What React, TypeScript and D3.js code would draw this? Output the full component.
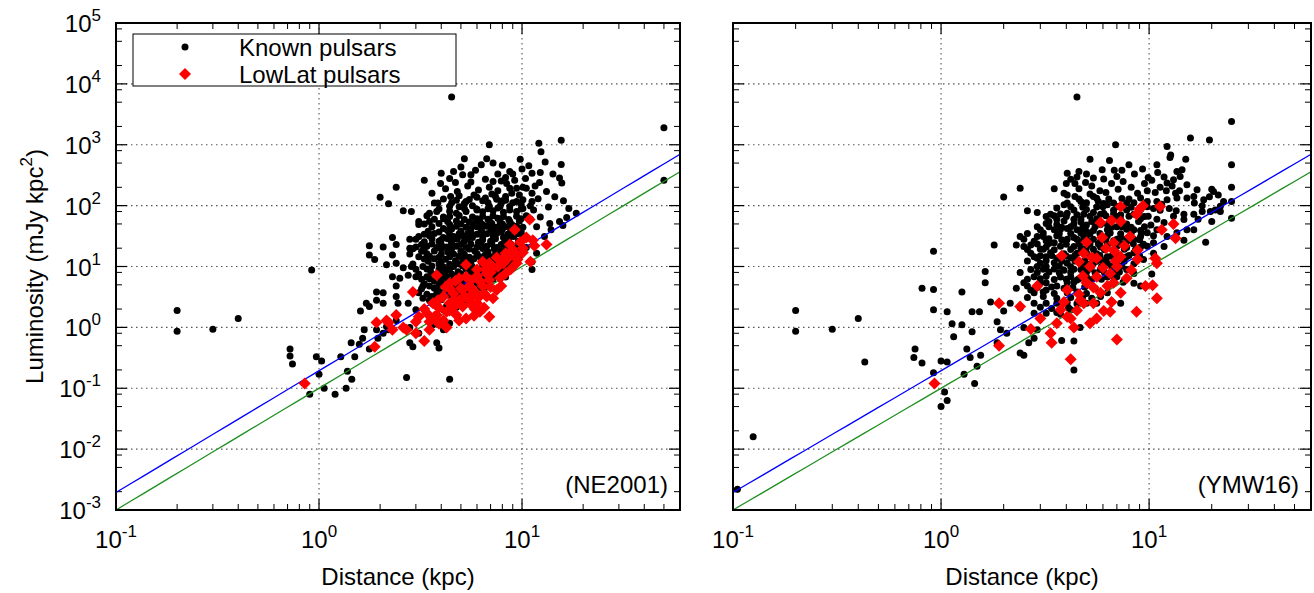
import React from "react";
import * as d3 from "d3";

// ---------------- DATA ----------------
// Known pulsars, NE2001 distances: [distance kpc, luminosity mJy kpc^2]
const knownNE: [number, number][] = [
  [0.2,1.9],[0.2,0.86],[0.3,0.93],[0.4,1.4],[0.72,0.44],[0.72,0.34],[0.74,0.25],[0.92,8.8],[0.97,0.33],[1.0,0.17],[1.03,0.28],[0.9,0.08],[1.06,0.1],[1.2,0.08],[1.28,0.33],[1.38,0.19],[1.36,0.1],[1.45,0.14],[4.4,0.14],[2.7,0.15],[4.5,6100],[50,1900],[50,260],
  [6.9,1000],[12.1,1060],[15.6,1180],[12.4,770],[5.2,590],[6.7,590],[7.2,500],[8.0,460],[9.8,580],[8.7,365],[10.0,400],[11.2,340],[12.3,350],[12.2,240],[15.6,475],[15.3,285],[15.7,235],[4.0,340],[4.6,365],[4.4,280],[5.1,320],[5.6,320],[4.7,240],[5.6,245],[6.6,270],[7.2,250],[7.9,255],[8.7,193],[9.4,193],[10.1,200],[10.5,193],[8.9,160],[3.97,230],[2.4,200],[2.0,137],[2.2,107],[2.6,82],[2.85,80],[3.5,55],[3.1,49],[4.45,141],[4.9,145],[5.3,117],[6.0,137],[6.6,133],[7.4,141],[8.3,141],[9.7,150],[11.2,160],[9.4,117],[11.2,117],[3.85,110],[4.4,98],[3.5,75],[3.8,80],[3.1,55],[4.1,65],[4.75,75],[4.3,55],[5.3,80],[6.0,85],[6.9,98],[7.8,98],[8.7,85],[10.1,90],[11.4,85],[12.3,65],[11.0,60],[13.7,51],[15.3,55],[16.6,64],[15.9,47],[13.9,40],[11.8,45],[12.9,31],[11.2,12],[11.8,16.5],[11.2,8.9],
  [2.3,30],[2.4,23],[2.07,21],[2.8,28],[2.8,20],[1.77,22],[1.77,15.5],[1.88,13],[2.3,15.5],[2.4,11.3],[2.15,10.7],[2.6,9.5],[2.85,10],[2.3,6.8],[2.5,6.4],[2.4,4.8],[2.75,7.2],[3.0,6.8],[3.25,4.8],[3.1,3.7],[1.92,3.8],[2.07,3.7],[1.77,2.2],[1.71,2.5],[1.6,1.85],[1.92,2.8],[2.4,3.2],[2.45,2.5],[2.07,2.5],[2.75,2.5],[3.25,3.0],[3.6,2.5],[3.0,1.95],[3.4,1.7],[3.64,1.3],[2.8,1.0],[1.92,0.91],[2.07,0.8],[2.2,0.91],[1.67,0.91],[1.64,0.66],[1.58,0.53],[1.77,0.44],[1.95,0.66],[2.15,1.03],[2.4,1.3],[2.8,0.56],[2.9,0.48],[3.1,0.8],[3.8,0.56],[3.9,0.46],[3.64,1.1],[4.1,0.91],[4.4,1.17],[4.1,1.95],[1.5,0.33],[1.44,0.56],
  [4.2,190],[4.8,170],[5.4,210],[6.1,180],[6.9,200],[7.6,175],[8.4,230],[9.2,260],[10.4,280],[11.6,210],[13.2,170],[5.0,430],[5.9,380],[6.3,470],[7.6,330],[8.3,290],[9.0,330],[10.8,450],[13.0,520],[14.2,330],[3.6,160],[3.3,260],[5.8,150],[7.1,155],[8.0,120],[9.9,105],[12.0,130],[13.5,95],[14.5,140],[17,90],[18.5,75],[16,120],
  [4.1,128],[4.75,122],[5.5,126],[6.4,120],[7.5,127],[8.3,123],[10.1,125],
  [3.7,110],[4.5,112],[5.2,108],[6.8,111],[7.9,109],[9.0,112],
  [4.9,96],[5.7,100],[8.7,97],[11.0,99],
  [3.9,88],[5.2,90],[6.0,87],[6.8,89],[7.6,91],[9.9,88],
  [4.4,81],[6.4,79],[7.2,82],[8.1,78],[9.4,80],
  [3.4,68],[4.4,66],[4.9,69],[5.7,65],[6.4,67],[7.2,68],[8.1,66],[9.4,67],[10.5,68],
  [3.7,60],[4.1,61],[5.2,59],[6.0,61],[6.8,60],[7.6,62],[8.6,59],[9.9,61],
  [4.75,56],[5.5,54],[6.2,55],[6.9,57],[7.8,54],[8.7,55],[9.7,56],
  [3.3,50],[3.9,51],[4.4,49],[5.0,50],[5.8,51],[6.4,49],[7.1,51],[8.0,50],[8.9,49],
  [3.6,45],[4.75,46],[5.3,44],[6.0,45],[6.7,46],[7.5,44],[8.3,45],[9.4,46],[10.1,44],
  [4.1,42],[4.5,41.5],[5.6,42],[6.3,41.5],[7.2,42.5],[8.0,41.5],[9.0,42],
  [3.45,38],[3.9,37],[4.3,39],[5.0,38],[5.6,37],[6.3,39],[7.0,38],[7.9,37],[8.8,39],[9.9,38],
  [3.3,34],[3.7,35],[4.4,34],[4.9,34.5],[5.4,35],[6.0,34],[6.7,34.5],[7.5,35],[8.5,34],[9.5,34.5],
  [3.1,31],[3.5,32],[4.1,30],[4.6,31],[5.1,32],[5.7,30],[6.4,31],[7.2,32],[8.1,30],[9.1,31],[10.1,32],
  [3.0,28],[3.6,28.5],[4.0,27.5],[4.3,28.5],[4.8,28],[5.4,28.5],[6.4,27.5],[7.4,28.5],[8.6,28],
  [3.3,25.6],[3.9,26],[4.5,25],[5.2,26],[6.1,25],[7.0,26],[8.2,25],[9.6,26],
  [3.2,23],[3.6,23.5],[4.0,23],[4.5,23.5],[5.0,23],[5.6,23.5],[6.3,23],[7.1,23.5],[7.9,23],[8.8,23.5],
  [3.0,21],[3.4,21.5],[3.8,20.5],[4.25,21],[4.75,21.5],[5.3,20.5],[6.0,21],[6.7,21.5],[7.5,20.5],[8.3,21],[9.4,21.5],[10.5,20.5],
  [2.9,19.5],[3.3,19.7],[4.0,19.3],[4.5,19.6],[5.5,19.4],[6.4,19.7],[7.3,19.5],[8.6,19.3],[9.8,19.5],
  [3.2,17.8],[3.7,18],[4.3,17.5],[5.0,17.8],[5.85,18],[6.8,17.5],[7.9,17.8],[9.2,18],
  [2.8,16],[3.4,16.2],[4.0,15.8],[4.6,16.1],[5.2,15.9],[6.0,16.2],[6.6,15.8],[7.4,16],[8.3,16.2],[9.2,15.8],
  [3.1,14.5],[3.5,14.8],[3.9,14.2],[4.4,14.5],[4.9,14.8],[5.5,14.2],[6.2,14.5],[6.9,14.8],[7.8,14.2],[8.7,14.5],[9.7,14.8],
  [3.3,13.3],[3.7,13.4],[4.2,13.2],[5.1,13.3],[5.8,13.4],[6.5,13.2],[7.4,13.3],[8.2,13.4],[9.1,13.3],
  [3.45,12.2],[4.0,12],[4.7,12.4],[5.4,12.2],[6.3,12],[7.3,12.4],[8.55,12.2],
  [2.9,11],[3.9,11.1],[4.4,10.9],[4.9,11],[5.6,11.1],[6.6,10.9],[7.6,11],[8.6,11.1],
  [3.25,10],[3.6,10.2],[4.1,9.8],[4.6,10],[5.1,10.2],[5.7,9.8],[6.4,10],[7.2,10.2],[8.1,9.8],[9.1,10],
  [3.0,9],[3.4,9.1],[3.9,8.9],[4.4,9],[5.3,9.1],[6.1,8.9],[7.0,9],[8.0,9.1],
  [3.55,8.3],[4.2,8.4],[4.84,8.2],[5.6,8.3],[6.6,8.4],[7.6,8.2],
  [3.1,7.5],[3.6,7.6],[4.0,7.4],[4.5,7.5],[5.0,7.6],[5.8,7.4],[6.3,7.5],[7.2,7.6],
  [3.4,6.8],[3.8,6.9],[4.25,6.7],[4.75,6.8],[5.3,6.9],[6.0,6.7],[6.7,6.8],[7.5,6.9],[8.3,6.7],
  [3.2,6.2],[3.5,6.3],[4.0,6.1],[4.6,6.2],[5.5,6.3],[6.4,6.1],[7.2,6.2],
  [3.7,5.7],[4.3,5.6],[5.0,5.8],[5.85,5.7],[6.8,5.6],
  [3.3,5.2],[4.0,5.3],[4.7,5.1],[5.3,5.2],[6.0,5.3],
  [3.5,4.8],[3.9,4.9],[4.4,4.7],[4.9,4.8],[5.5,4.9],[6.2,4.7],[6.9,4.8],
  [3.2,4.3],[3.7,4.4],[4.2,4.2],[4.7,4.3],[5.5,4.4],[6.5,4.2],
  [3.9,3.9],[4.5,4.0],[5.2,3.8],[6.1,3.9],
  [3.4,3.5],[3.8,3.6],[4.3,3.4],[4.9,3.5],[5.4,3.6],
  [3.6,3.2],[4.1,3.3],[4.6,3.1],[5.1,3.2],[5.7,3.3],
  [3.5,2.8],[4.0,2.85],[4.5,2.75],[5.2,2.8],
  [3.8,2.2],[4.25,2.25],[4.75,2.15],
];

// LowLat pulsars, NE2001 distances
const lowlatNE: [number, number][] = [
  [0.85,0.12],
  [10.9,59],[9.2,40],[8.7,23],[10.1,20],[11.3,27],[13.2,23],[11.0,12],[10.1,17],[9.4,15.5],[8.3,16.5],[7.5,14],[6.9,11.3],[6.4,12],[5.3,10.7],[6.0,8.9],[6.7,7.7],[7.2,9.5],[8.1,11.3],[3.8,7.2],[2.9,3.8],[4.4,5.3],[4.9,6.4],[5.3,6.8],[5.5,4.8],[6.2,5.7],[6.9,6.0],[6.4,4.8],[5.7,3.6],[5.1,4.1],[4.6,3.6],[4.1,3.2],[4.4,2.5],[4.9,2.8],[5.5,2.8],[6.0,2.5],[7.2,3.0],[6.2,1.8],[6.9,1.5],[5.3,1.4],[4.75,1.6],[4.25,1.8],[3.8,1.6],[3.5,1.24],[3.4,1.7],[4.1,1.3],[4.25,1.0],[3.5,0.91],[3.0,1.24],[3.0,0.8],[2.7,0.91],[2.4,1.6],[2.2,1.2],[2.3,0.91],[1.92,1.2],[1.88,0.48],[3.3,0.6],[3.9,1.15],[4.7,2.3],[5.1,2.2],[5.85,2.0],[6.7,3.2],[7.5,4.1],[7.9,4.8],[8.3,7.7],[9.4,11.3],[4.4,4.4],[3.64,2.5],[3.85,2.8],[3.1,1.5],[2.6,1.0],[2.15,1.3],
  [4.2,4.6],[4.7,5.8],[5.0,4.4],[5.6,5.9],[6.0,7.0],[6.6,9.0],[7.0,8.0],[7.6,9.9],[8.0,13],[8.6,14],[9.0,19],[9.8,25],[10.5,30],[11.5,22],[5.8,4.0],[6.5,3.6],[7.0,4.6],[5.2,3.2],[4.6,2.8],[3.9,2.1],[4.4,1.9],[5.6,2.4],[6.1,3.1],[3.3,2.0],[3.7,1.5],[8.8,9],[9.5,13],[7.8,6.5],[4.0,1.2],[4.9,1.3],[5.8,1.55],[6.5,2.1],
];

// Known pulsars, YMW16 distances
const knownYMW: [number, number][] = [
  [0.105,0.0022],[0.125,0.016],[0.2,1.9],[0.2,0.86],[0.3,0.93],[0.4,1.4],[0.43,0.27],[1.04,0.087],[1.07,0.063],[1.0,0.05],[1.29,0.17],[1.45,0.12],[1.0,0.28],[4.5,6100],[24.9,2400],
  [15.8,1285],[19.5,1200],[6.9,1000],[12.2,935],[12.7,680],[12.6,620],[15.0,580],[5.2,580],[6.45,550],[8.0,470],[7.4,380],[6.8,380],[10.9,470],[24.9,470],[4.04,340],[4.6,365],[4.5,295],[5.0,330],[5.4,285],[5.95,390],[9.9,290],[11.8,295],[12.2,235],[13.1,265],[13.6,365],[14.4,390],[14.1,300],[15.2,220],[4.0,230],[4.4,230],[4.95,240],[6.05,275],[6.2,165],[7.1,185],[9.8,175],[10.7,165],[12.1,175],[13.4,160],[17.0,182],[20.0,185],[20.4,170],[24.9,200],[2.4,193],[2.0,138],[3.9,160],[4.04,150],[4.4,141],[4.7,117],[5.2,155],[5.4,141],[5.7,117],[6.3,103],[7.0,97],[7.8,110],[9.1,133],[9.8,117],[10.9,117],[12.2,125],[13.6,133],[15.2,133],[16.4,141],[18.3,125],[22.0,98],[22.8,117],[24.9,117],[24.9,62],
  [2.6,82],[2.9,77],[3.2,66],[3.6,60],[3.9,103],[3.6,91],[4.04,75],[4.35,60],[4.85,72],[5.4,77],[6.05,75],[8.45,72],[9.9,67],[10.9,60],[11.8,53],[13.1,67],[14.7,72],[16.4,72],[16.4,40],[18.0,80],[19.7,80],[20.8,85],[22.0,80],[15.2,40],[13.6,36],[18.7,25],[2.9,45],[3.2,51],[2.9,31],[3.5,40],[4.04,42],[4.5,40],[5.0,38],[5.84,49],[7.0,45],[8.45,40],[9.8,36],[10.9,40],[12.2,31],[14.7,27],[2.4,31],[2.3,22.5],[2.5,21.3],[2.7,22.5],[1.8,22.5],[0.92,17.8],[3.0,19.3],[3.5,24.5],[4.04,28],[4.35,21.3],[4.7,20],[5.4,28],[6.3,22.5],[8.45,28],[10.5,24.5],[11.8,21.3],
  [2.8,14.5],[2.9,10],[3.1,9],[3.2,14.5],[3.6,13.7],[4.04,11.3],[4.35,9],[4.7,11.3],[5.4,11.3],[6.3,14.5],[7.8,14.5],[9.4,13],[10.5,16.5],[2.4,8.0],[2.5,5.4],[2.6,4.8],[2.3,4.4],[2.7,4.1],[3.0,5.4],[3.2,4.1],[3.6,4.8],[4.04,5.4],[4.5,6.0],[5.0,6.8],[5.84,8.9],[7.0,6.8],[8.45,7.7],[10.3,7.5],[1.63,8.3],[1.63,5.4],[0.81,4.4],[0.92,4.2],[1.26,3.8],[1.73,2.6],[2.15,2.5],[2.0,1.85],[1.07,1.8],[1.41,1.8],[1.53,1.8],[1.13,1.15],[1.26,1.1],[1.41,0.85],[1.15,0.7],[1.86,1.24],[1.93,0.91],[2.07,0.8],[2.5,1.0],[2.8,1.7],[3.2,2.5],[3.6,2.5],[4.2,1.95],[5.0,2.5],[5.84,3.2],[7.3,2.5],[8.45,5.3],[9.1,4.8],
  [0.75,0.44],[0.74,0.32],[0.81,0.26],[1.07,0.27],[1.33,0.44],[1.38,0.32],[1.55,0.35],[1.86,0.56],[2.8,0.66],[2.64,0.56],[2.9,0.91],[2.4,0.38],[2.5,0.35],[3.8,0.61],[4.35,0.6],[4.35,0.2],[4.66,1.0],[1.49,0.23],[0.92,0.18],[0.92,1.95],
  [4.6,190],[5.3,210],[5.8,175],[6.6,230],[7.5,250],[8.2,200],[8.8,160],[9.5,230],[10.3,260],[11.3,200],[12.9,210],[14.0,175],[7.0,300],[8.5,330],[9.3,400],[11.0,350],[4.2,270],[3.5,190],[16.5,110],[18.0,100],[19.5,140],[21.5,150],[17.2,60],[20.0,55],[12.5,90],[11.5,105],[13.5,82],[10.5,90],
  [4.6,128],[5.6,132],[6.4,128],[7.4,131],[8.0,128],
  [4.04,110],[5.0,112],[6.05,108],[6.75,110],[8.45,112],
  [4.2,96],[4.8,94],[5.6,95],[6.0,96],[7.5,95],[8.2,94],[9.8,96],
  [4.35,85],[5.0,86],[6.75,84],[7.8,85],[9.1,86],[11.3,84],
  [3.36,72],[3.75,73],[4.5,71],[5.84,72],[6.75,73],[7.3,71],
  [3.5,68],[4.0,66],[5.2,67],[6.2,68],[7.0,66],[8.0,67],[9.0,68],[9.5,66],
  [4.7,60],[5.6,61],[6.5,59],[7.3,60],[9.1,61],[14.7,59],
  [3.3,55],[3.9,56],[4.7,54],[5.3,55],[6.6,56],[7.4,54],[8.9,55],
  [3.6,49],[4.35,50],[5.0,48],[6.3,49],[7.8,50],[10.2,48],
  [3.3,45],[3.8,44],[4.2,45],[4.8,44],[5.5,45],[6.6,44],[7.4,45],[8.2,44],[9.5,45],
  [3.0,40],[3.75,41],[5.4,39],[6.3,40],[7.8,41],[9.1,39],
  [2.6,35],[3.1,35.5],[3.7,34.5],[4.2,35],[4.7,35.5],[5.2,34.5],[5.8,35],[6.5,35.5],[7.3,34.5],[8.2,35],[9.2,35.5],
  [3.1,31],[3.6,32],[4.35,30],[4.85,31],[6.3,32],[7.3,30],[9.1,31],[10.5,32],
  [2.5,28],[3.3,28.5],[3.8,27.5],[4.5,28],[5.0,28.5],[6.2,27.5],[7.0,28],[7.8,28.5],[9.0,27.5],
  [2.8,26],[3.2,26.5],[4.7,25.5],[5.84,26],[6.75,26.5],[7.8,25.5],
  [2.9,23.5],[3.3,23.8],[4.0,23.3],[4.6,23.6],[5.2,23.4],[5.7,23.7],[6.3,23.3],[7.4,23.5],[8.4,23.7],[9.4,23.3],
  [3.2,21],[3.75,21.5],[5.0,20.5],[5.84,21],[7.0,21.5],[7.8,20.5],[9.1,21],[9.8,21.5],
  [2.6,19],[3.1,19.2],[3.5,18.8],[4.2,19.1],[4.9,18.9],[5.4,19.2],[6.1,18.8],[6.8,19],[7.6,19.2],[8.6,18.8],
  [2.7,16.5],[3.36,16.8],[3.9,16.2],[4.5,16.5],[5.0,16.8],[5.6,16.2],[6.75,16.5],[8.45,16.8],
  [3.0,15],[3.4,15.2],[4.0,14.8],[4.4,15.1],[5.2,14.9],[5.8,15.2],[6.6,14.8],[7.1,15],[8.0,15.1],[9.0,15],
  [2.9,13.7],[4.2,13.9],[5.84,13.5],[7.3,13.7],
  [2.6,12.3],[3.2,12.4],[3.8,12.2],[4.4,12.3],[4.9,12.4],[5.6,12.2],[6.0,12.3],[6.9,12.4],[7.6,12.2],
  [3.0,11.3],[3.5,11.5],[5.0,11.1],[6.3,11.3],[7.0,11.5],[8.45,11.1],
  [3.2,10],[3.7,10.1],[4.2,9.9],[4.8,10],[5.3,10.1],[5.9,9.9],[6.6,10],[7.4,10.1],
  [2.7,8.9],[3.5,9.1],[3.9,8.7],[4.7,8.9],[5.2,9.1],[6.75,8.7],[7.8,8.9],
  [2.9,8],[3.3,8.1],[3.7,7.9],[4.2,8],[5.0,8.1],[5.5,7.9],[6.1,8],[7.2,8.1],
  [2.8,6.8],[3.2,6.9],[3.75,6.7],[4.2,6.8],[5.6,6.9],[6.3,6.7],
  [2.6,6.2],[3.0,6.3],[3.5,6.1],[4.0,6.2],[4.6,6.3],[5.3,6.1],[5.9,6.2],[6.8,6.3],
  [3.2,5.4],[4.35,5.5],[5.0,5.3],[6.75,5.4],[7.5,5.5],
  [2.9,4.5],[3.4,4.6],[3.9,4.4],[4.3,4.5],[4.9,4.6],[5.5,4.4],
  [2.8,3.7],[3.1,3.8],[3.5,3.6],[4.04,3.7],[4.5,3.8],[5.0,3.6],[6.3,3.7],
  [2.6,3.1],[3.1,3.2],[3.6,3.0],[4.2,3.1],[4.8,3.2],[5.3,3.0],
  [2.8,2.5],[4.04,2.55],[4.5,2.45],[5.6,2.5],
  [2.4,2.1],[3.0,2.15],[3.4,2.05],[4.1,2.1],
  [3.2,1.7],[3.6,1.75],[3.75,1.65],
];

// LowLat pulsars, YMW16 distances
const lowlatYMW: [number, number][] = [
  [0.93,0.12],
  [7.3,97],[9.0,88],[9.35,100],[11.3,97],[8.7,72],[5.84,53],[6.6,57],[7.3,55],[13.1,50],[13.4,29],[8.1,31],[5.95,30],[5.0,25],[6.75,24.5],[4.85,16.5],[3.8,15],[5.6,13.7],[7.3,14.5],[8.8,18.5],[8.8,13.2],[10.7,13.7],[10.9,11.3],[2.9,4.8],[4.04,4.1],[5.0,5.4],[5.6,6.8],[6.5,7.7],[7.0,10],[7.8,6.4],[5.2,10],[6.3,4.8],[7.3,3.7],[9.6,4.8],[10.4,4.9],[10.9,3.0],[1.9,2.5],[2.4,2.2],[3.0,1.4],[2.7,0.94],[3.36,0.8],[3.4,0.56],[3.6,1.17],[4.2,1.4],[4.5,1.9],[4.85,2.5],[5.4,2.5],[6.05,1.85],[6.5,1.8],[7.0,0.63],[8.7,1.8],[4.2,0.3],[1.9,0.5],[4.66,2.8],[4.04,1.5],[3.75,1.95],[4.35,1.0],[5.2,1.17],[5.84,3.7],[6.75,5.4],
  [5.3,14],[6.2,20],[6.8,18],[7.6,22],[4.6,12],[6.0,9.5],[6.9,12.3],[8.2,8.8],[4.8,7.0],[5.4,4.5],[4.6,3.5],[3.9,2.6],[5.6,1.4],[6.6,2.6],[11.5,40],
];

// Sensitivity lines: L = S * d^2  (S in mJy)
const sBlue = 0.194;
const sGreen = 0.1;

const xDomain: [number, number] = [0.1, 60];
const yDomain: [number, number] = [1e-3, 1e5];
const xMajor = [0.1, 1, 10];
const xMajorExp = ["-1", "0", "1"];
const yMajor = [1e-3, 1e-2, 1e-1, 1, 10, 100, 1e3, 1e4, 1e5];
const yMajorExp = ["-3", "-2", "-1", "0", "1", "2", "3", "4", "5"];
const xMinorMult = [2, 3, 4, 5, 6, 7, 8, 9];
const yMinorMult = [2, 5, 8];

// ---------------- LAYOUT ----------------
const W = 1314, H = 593;
const TOP = 23, BOTTOM = 510;
const FONT = "'Liberation Sans', Arial, Helvetica, sans-serif";
const FS = 24, SUP = 17;
const panels = [
  { x0: 116, x1: 680, known: knownNE, low: lowlatNE, tag: "(NE2001)", yLabels: true, legend: true },
  { x0: 733, x1: 1311, known: knownYMW, low: lowlatYMW, tag: "(YMW16)", yLabels: false, legend: false },
];

function diamond(s: number) {
  return `M0,${-s}L${s},0L0,${s}L${-s},0Z`;
}

function Panel({ p, idx }: { p: typeof panels[0]; idx: number }) {
  const x = d3.scaleLog().domain(xDomain).range([p.x0, p.x1]);
  const y = d3.scaleLog().domain(yDomain).range([BOTTOM, TOP]);
  const xMinor: number[] = [];
  xMajor.forEach((m) => xMinorMult.forEach((k) => { if (m * k <= xDomain[1]) xMinor.push(m * k); }));
  const yMinor: number[] = [];
  yMajor.forEach((m) => yMinorMult.forEach((k) => { if (m * k < yDomain[1]) yMinor.push(m * k); }));
  const lineD = (s: number) => {
    const ds = d3.range(0, 41).map((i) => xDomain[0] * Math.pow(xDomain[1] / xDomain[0], i / 40));
    return d3.line<number>().x((d) => x(d)).y((d) => y(s * d * d))(ds) || "";
  };
  const MAJ = 11, MIN = 6;
  const clipId = `clip${idx}`;
  const grid = "#555";
  return (
    <g>
      <defs>
        <clipPath id={clipId}>
          <rect x={p.x0} y={TOP} width={p.x1 - p.x0} height={BOTTOM - TOP} />
        </clipPath>
      </defs>
      {xMajor.slice(1).map((v) => (
        <line key={"gx" + v} x1={x(v)} x2={x(v)} y1={TOP} y2={BOTTOM} stroke={grid} strokeWidth={1.1} strokeDasharray="1.5,3.5" />
      ))}
      {yMajor.slice(1, -1).map((v) => (
        <line key={"gy" + v} x1={p.x0} x2={p.x1} y1={y(v)} y2={y(v)} stroke={grid} strokeWidth={1.1} strokeDasharray="1.5,3.5" />
      ))}
      {xMajor.map((v) => (
        <g key={"xt" + v}>
          <line x1={x(v)} x2={x(v)} y1={BOTTOM} y2={BOTTOM - MAJ} stroke="#000" strokeWidth={1.2} />
          <line x1={x(v)} x2={x(v)} y1={TOP} y2={TOP + MAJ} stroke="#000" strokeWidth={1.2} />
        </g>
      ))}
      {xMinor.map((v) => (
        <g key={"xm" + v}>
          <line x1={x(v)} x2={x(v)} y1={BOTTOM} y2={BOTTOM - MIN} stroke="#000" strokeWidth={1} />
          <line x1={x(v)} x2={x(v)} y1={TOP} y2={TOP + MIN} stroke="#000" strokeWidth={1} />
        </g>
      ))}
      {yMajor.map((v) => (
        <g key={"yt" + v}>
          <line x1={p.x0} x2={p.x0 + MAJ} y1={y(v)} y2={y(v)} stroke="#000" strokeWidth={1.2} />
          <line x1={p.x1} x2={p.x1 - MAJ} y1={y(v)} y2={y(v)} stroke="#000" strokeWidth={1.2} />
        </g>
      ))}
      {yMinor.map((v) => (
        <g key={"ym" + v}>
          <line x1={p.x0} x2={p.x0 + MIN} y1={y(v)} y2={y(v)} stroke="#000" strokeWidth={1} />
          <line x1={p.x1} x2={p.x1 - MIN} y1={y(v)} y2={y(v)} stroke="#000" strokeWidth={1} />
        </g>
      ))}
      <g clipPath={`url(#${clipId})`}>
        {p.known.map(([d, l], i) => (
          <circle key={"k" + i} cx={x(d)} cy={y(l)} r={3.5} fill="#000" />
        ))}
        <path d={lineD(sBlue)} fill="none" stroke="#0000ff" strokeWidth={1.3} />
        <path d={lineD(sGreen)} fill="none" stroke="#1f8f1f" strokeWidth={1.3} />
        {p.low.map(([d, l], i) => (
          <path key={"r" + i} d={diamond(6)} transform={`translate(${x(d)},${y(l)})`} fill="#ff0000" />
        ))}
      </g>
      <rect x={p.x0} y={TOP} width={p.x1 - p.x0} height={BOTTOM - TOP} fill="none" stroke="#000" strokeWidth={2} />
      {xMajor.map((v, i) => (
        <text key={"xl" + v} x={x(v)} y={548} textAnchor="middle" fontFamily={FONT} fontSize={FS}>
          10<tspan dy={-11} fontSize={SUP}>{xMajorExp[i]}</tspan>
        </text>
      ))}
      {p.yLabels && yMajor.map((v, i) => (
        <text key={"yl" + v} x={101} y={y(v) + 9} textAnchor="end" fontFamily={FONT} fontSize={FS}>
          10<tspan dy={-11} fontSize={SUP}>{yMajorExp[i]}</tspan>
        </text>
      ))}
      <text x={(p.x0 + p.x1) / 2} y={585} textAnchor="middle" fontFamily={FONT} fontSize={FS}>Distance (kpc)</text>
      <text x={p.x1 - 12} y={493} textAnchor="end" fontFamily={FONT} fontSize={FS}>{p.tag}</text>
      {p.legend && (
        <g>
          <rect x={133} y={34} width={323} height={52} fill="#fff" stroke="#000" strokeWidth={1} />
          <circle cx={185} cy={47} r={3.5} fill="#000" />
          <path d={diamond(6)} transform="translate(185,74)" fill="#ff0000" />
          <text x={239} y={56} fontFamily={FONT} fontSize={FS}>Known pulsars</text>
          <text x={239} y={83} fontFamily={FONT} fontSize={FS}>LowLat pulsars</text>
        </g>
      )}
    </g>
  );
}

export default function App() {
  return (
    <svg width={W} height={H} viewBox={`0 0 ${W} ${H}`} style={{ display: "block", position: "absolute", left: 0, top: 0, background: "#fff" }}>
      <rect x={0} y={0} width={W} height={H} fill="#fff" />
      {panels.map((p, i) => <Panel key={i} p={p} idx={i} />)}
      <text transform={`translate(43,${(TOP + BOTTOM) / 2}) rotate(-90)`} textAnchor="middle" fontFamily={FONT} fontSize={FS}>
        Luminosity (mJy kpc<tspan dy={-11} fontSize={SUP}>2</tspan><tspan dy={11}>)</tspan>
      </text>
    </svg>
  );
}
